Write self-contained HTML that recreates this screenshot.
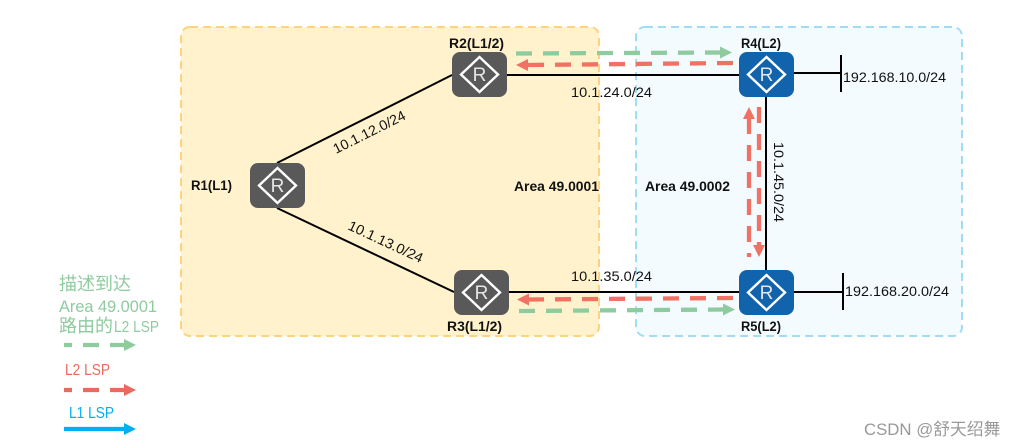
<!DOCTYPE html>
<html>
<head>
<meta charset="utf-8">
<style>
html,body{margin:0;padding:0;background:#fff;width:1016px;height:446px;overflow:hidden}
svg{display:block}
text{font-family:"Liberation Sans","Noto Sans CJK SC",sans-serif}
.b{font-size:13.500px;font-weight:bold;fill:#111}
.t{font-size:14px;fill:#111}
.r{font-size:19px;fill:#e6e6e6;text-anchor:middle}
</style>
</head>
<body>
<svg width="1016" height="446" viewBox="0 0 1016 446" xmlns="http://www.w3.org/2000/svg">
<defs>
<polygon id="h" points="0,-6 12,0 0,6"/>
<g id="ri">
<polygon points="0,-17.500 18.500,0 0,17.500 -18.500,0" fill="none" stroke="#fff" stroke-width="2.400"/>
<text class="r" x="0" y="6.500">R</text>
</g>
</defs>

<rect x="181" y="27" width="418" height="309" rx="9" fill="#fff2cc" stroke="#ffd27f" stroke-width="2" stroke-dasharray="8 5"/>
<rect x="636" y="27" width="326" height="309" rx="9" fill="#f3fbff" stroke="#a0dcf5" stroke-width="2" stroke-dasharray="8 5"/>

<g stroke="#000" stroke-width="2" fill="none">
<line x1="277" y1="163" x2="452" y2="75"/>
<line x1="277" y1="208" x2="454" y2="292"/>
<line x1="507" y1="75" x2="739" y2="75"/>
<line x1="509" y1="292" x2="739" y2="292"/>
<line x1="766" y1="97" x2="766" y2="270"/>
<line x1="794" y1="73" x2="842" y2="73"/>
<line x1="841" y1="55" x2="841" y2="92"/>
<line x1="794" y1="292" x2="843" y2="292"/>
<line x1="843" y1="273" x2="843" y2="310"/>
</g>

<rect x="250" y="163" width="55" height="45" rx="8" fill="#595959"/>
<use href="#ri" x="277.500" y="185.500"/>
<rect x="452" y="52" width="55" height="45" rx="8" fill="#595959"/>
<use href="#ri" x="479.500" y="74.500"/>
<rect x="454" y="270" width="55" height="45" rx="8" fill="#595959"/>
<use href="#ri" x="481.500" y="292.500"/>
<rect x="739" y="52" width="55" height="45" rx="8" fill="#1163ac"/>
<use href="#ri" x="766.500" y="74.500"/>
<rect x="739" y="270" width="55" height="45" rx="8" fill="#1163ac"/>
<use href="#ri" x="766.500" y="292.500"/>

<g fill="none" stroke-width="4.300" stroke-dasharray="16 11">
<line x1="516" y1="53.500" x2="722" y2="52.500" stroke="#8ecb9f"/>
<line x1="733" y1="63" x2="527" y2="65" stroke="#f07265"/>
<line x1="733" y1="298" x2="528" y2="299.500" stroke="#f07265"/>
<line x1="519" y1="311" x2="725" y2="309.500" stroke="#8ecb9f"/>
<line x1="749" y1="257" x2="749" y2="118" stroke="#f07265" stroke-dashoffset="12"/>
<line x1="759" y1="107" x2="759" y2="246" stroke="#f07265"/>
<line x1="64" y1="345" x2="126" y2="345" stroke="#8ecb9f" stroke-dashoffset="8"/>
<line x1="64" y1="390" x2="126" y2="390" stroke="#e96a5e" stroke-dashoffset="8"/>
</g>
<line x1="64" y1="429" x2="126" y2="429" stroke="#00b0f0" stroke-width="4.300"/>

<use href="#h" x="720" y="52.500" fill="#8ecb9f"/>
<polygon points="516,65 528,59 528,71" fill="#f07265"/>
<polygon points="517,299.500 529,293.500 529,305.500" fill="#f07265"/>
<use href="#h" x="723" y="309.500" fill="#8ecb9f"/>
<polygon points="749,107 743,119 755,119" fill="#f07265"/>
<polygon points="759,257 753,245 765,245" fill="#f07265"/>
<use href="#h" x="124" y="345" fill="#8ecb9f"/>
<use href="#h" x="124" y="390" fill="#e96a5e"/>
<use href="#h" x="124" y="429" fill="#00b0f0"/>

<text class="b" x="449" y="48" textLength="55" lengthAdjust="spacingAndGlyphs">R2(L1/2)</text>
<text class="b" x="741" y="48" textLength="40" lengthAdjust="spacingAndGlyphs">R4(L2)</text>
<text class="b" x="191" y="190" textLength="41" lengthAdjust="spacingAndGlyphs">R1(L1)</text>
<text class="b" x="447" y="331" textLength="55" lengthAdjust="spacingAndGlyphs">R3(L1/2)</text>
<text class="b" x="741" y="331" textLength="40" lengthAdjust="spacingAndGlyphs">R5(L2)</text>
<text class="b" x="514" y="191" textLength="85" lengthAdjust="spacingAndGlyphs">Area 49.0001</text>
<text class="b" x="645" y="191" textLength="85" lengthAdjust="spacingAndGlyphs">Area 49.0002</text>

<text class="t" x="571" y="97" textLength="81" lengthAdjust="spacingAndGlyphs">10.1.24.0/24</text>
<text class="t" x="571" y="281" textLength="81" lengthAdjust="spacingAndGlyphs">10.1.35.0/24</text>
<text class="t" x="843" y="82" textLength="103" lengthAdjust="spacingAndGlyphs">192.168.10.0/24</text>
<text class="t" x="845" y="296" textLength="104" lengthAdjust="spacingAndGlyphs">192.168.20.0/24</text>
<text class="t" transform="translate(336,154) rotate(-26.500)" textLength="79" lengthAdjust="spacingAndGlyphs">10.1.12.0/24</text>
<text class="t" transform="translate(347,229) rotate(25)" textLength="81" lengthAdjust="spacingAndGlyphs">10.1.13.0/24</text>
<text class="t" transform="translate(774,142) rotate(90)" textLength="80" lengthAdjust="spacingAndGlyphs">10.1.45.0/24</text>

<g fill="#8ecb9f">
<text x="59" y="290" font-size="18">描述到达</text>
<text x="59" y="312" font-size="16.500" textLength="98" lengthAdjust="spacingAndGlyphs">Area 49.0001</text>
<text x="59" y="332" font-size="18">路由的</text>
<text x="114" y="332" font-size="16" textLength="45" lengthAdjust="spacingAndGlyphs">L2 LSP</text>
</g>
<text x="65" y="375" font-size="16" fill="#e96a5e" textLength="45" lengthAdjust="spacingAndGlyphs">L2 LSP</text>
<text x="69" y="418" font-size="16" fill="#00b0f0" textLength="45" lengthAdjust="spacingAndGlyphs">L1 LSP</text>

<text x="864" y="435" font-size="16.800" fill="#999">CSDN @舒天绍舞</text>
</svg>
</body>
</html>
